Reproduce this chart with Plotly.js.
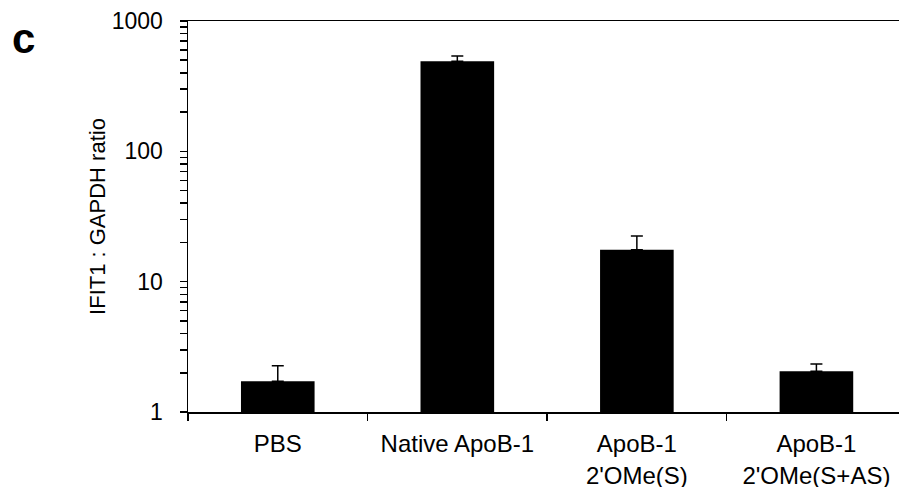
<!DOCTYPE html>
<html>
<head>
<meta charset="utf-8">
<script src="https://cdn.plot.ly/plotly-3.0.1.min.js"></script>
<style>html,body{margin:0;padding:0;background:#fff;}#chart{width:899px;height:487px;}</style>
</head>
<body>
<div id="chart"></div>
<script>
var categories = ["PBS", "Native ApoB-1", "ApoB-1<br>2'OMe(S)", "ApoB-1<br>2'OMe(S+AS)"];
var ratioValues = [1.72, 492, 17.6, 2.05];
var errorPlus = [0.54, 48, 4.8, 0.28];
var errorMinus = [0, 0, 0, 0];
var yTickVals = [1, 2, 3, 4, 5, 6, 7, 8, 9, 10, 20, 30, 40, 50, 60, 70, 80, 90, 100, 200, 300, 400, 500, 600, 700, 800, 900, 1000];
var yTickText = ["1", " ", " ", " ", " ", " ", " ", " ", " ", "10", " ", " ", " ", " ", " ", " ", " ", " ", "100", " ", " ", " ", " ", " ", " ", " ", " ", "1000"];

var trace = {
  type: 'bar',
  x: categories,
  y: ratioValues,
  width: 0.41,
  marker: {color: '#000000', line: {width: 0}},
  error_y: {
    type: 'data', symmetric: false, array: errorPlus, arrayminus: errorMinus,
    color: '#000000', thickness: 1.5, width: 6
  },
  hoverinfo: 'x+y'
};

var yRange = [0, 3];
var fontFamily = 'Liberation Sans, Arial, sans-serif';

var layout = {
  width: 899, height: 487,
  margin: {l: 188, r: 0, t: 21, b: 75},
  paper_bgcolor: '#ffffff', plot_bgcolor: '#ffffff',
  font: {family: fontFamily, color: '#000000'},
  showlegend: false,
  xaxis: {
    type: 'category',
    range: [-0.5, 3.46],
    tickson: 'boundaries',
    ticks: 'outside', ticklen: 7, tickwidth: 1.5, tickcolor: '#000',
    showline: true, linecolor: '#000', linewidth: 1.5, mirror: true,
    showgrid: false, zeroline: false,
    tickfont: {size: 24, family: fontFamily, color: '#000'},
    ticklabelstandoff: 10
  },
  yaxis: {
    type: 'log',
    range: yRange,
    tickmode: 'array', tickvals: yTickVals, ticktext: yTickText,
    ticks: 'outside', ticklen: 7, tickwidth: 1.5, tickcolor: '#000',
    showline: true, linecolor: '#000', linewidth: 1.5,
    showgrid: false, zeroline: false,
    tickfont: {size: 23, family: fontFamily, color: '#000'},
    ticklabelstandoff: 12,
    title: {text: 'IFIT1 : GAPDH ratio', font: {size: 22, family: fontFamily, color: '#000'}, standoff: 0}
  },
  annotations: [{
    text: '<b>c</b>', xref: 'paper', yref: 'paper', x: -0.25, y: 0.955,
    xanchor: 'left', yanchor: 'middle', showarrow: false,
    font: {size: 42, family: fontFamily, color: '#000'}
  }]
};

Plotly.newPlot('chart', [trace], layout, {displayModeBar: false, staticPlot: true});
</script>
</body>
</html>
